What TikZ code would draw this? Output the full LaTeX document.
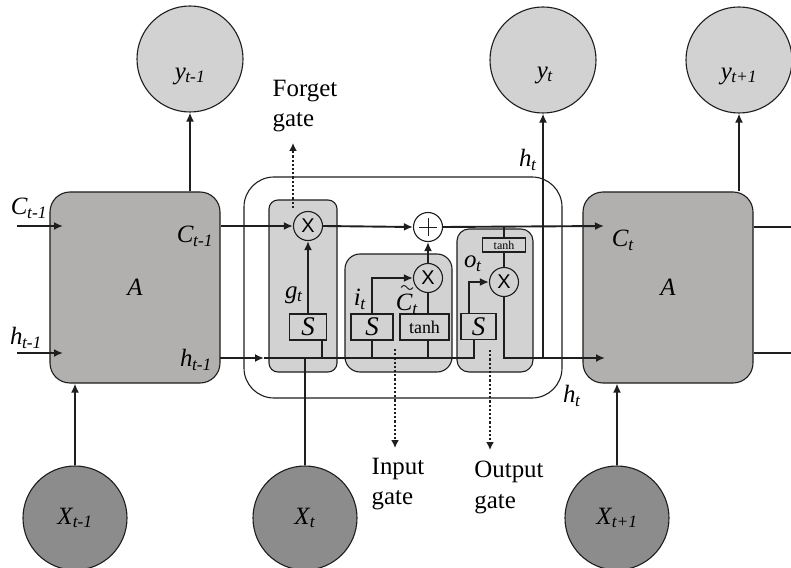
\documentclass[tikz,border=0pt]{standalone}
\usepackage{fontspec}
\setmainfont{Liberation Serif}
\newfontfamily\xfont{Liberation Sans}
\usetikzlibrary{arrows.meta,calc}
\newcommand{\vsub}[2]{\textit{#1}\textsubscript{\kern-0.5pt\textit{#2}}}
\definecolor{boxdark}{RGB}{178,175,175}
\definecolor{boxlight}{RGB}{210,210,210}
\definecolor{circdark}{RGB}{140,140,140}
\definecolor{linecol}{RGB}{30,30,30}
\begin{document}
\begin{tikzpicture}[x=1bp,y=-1bp,
  outl/.style={draw=linecol, line width=1.1bp},
  abox/.style={outl, fill=boxdark, rounded corners=20bp, minimum width=170bp, minimum height=191bp, inner sep=0pt, font=\fontsize{25}{30}\selectfont\itshape},
  gatebox/.style={outl, fill=boxlight, inner sep=0pt},
  sbox/.style={outl, fill=boxlight, inner sep=0pt, minimum height=26bp, font=\fontsize{27}{30}\selectfont\itshape},
  tbox/.style={outl, fill=boxlight, inner sep=0pt, minimum height=26bp, minimum width=49bp, font=\fontsize{18}{20}\selectfont},
  ycirc/.style={circle, outl, fill=boxlight, minimum size=106bp, inner sep=0pt},
  xcirc/.style={circle, outl, fill=circdark, minimum size=104bp, inner sep=0pt, font=\fontsize{25}{30}\selectfont},
  opc/.style={circle, outl, fill=boxlight, minimum size=29bp, inner sep=0pt, font=\xfont\fontsize{20}{20}\selectfont},
  lab/.style={inner sep=0pt, font=\fontsize{25}{30}\selectfont},
  glab/.style={inner sep=0pt, align=left, font=\fontsize{25}{31}\selectfont},
  conn/.style={line width=1.9bp, draw=linecol},
  arr/.style={conn, -{Latex[length=9bp,width=8bp]}},
  dots/.style={line width=2.6bp, draw=linecol, dash pattern=on 2.2bp off 2bp, -{Latex[length=8bp,width=8bp]}}
]
\fill[white] (0,0) rectangle (791,568);
\useasboundingbox (0,0) rectangle (791,568);

% big boxes
\node[abox] (AL) at (135,287.5) {A};
\node[abox] (AR) at (668,287.5) {A};
\node[outl, rounded corners=30bp, minimum width=318bp, minimum height=221bp, inner sep=0pt] (cell) at (403,287.5) {};
\node[gatebox, rounded corners=9bp, minimum width=68bp, minimum height=172bp] (fg) at (303,286) {};
\node[gatebox, rounded corners=15bp, minimum width=107bp, minimum height=118bp] (ig) at (398.5,313) {};
\node[gatebox, rounded corners=12bp, minimum width=76bp, minimum height=143bp] (og) at (495,300.5) {};

% circles outside
\node[ycirc] (yL) at (190,59) {};
\node[ycirc] (yt) at (543,60) {};
\node[ycirc] (yR) at (739,60) {};
\node[lab] (lyL) at (190,76) {\vsub{y}{t-1}};
\node[lab] (lyt) at (545,75) {\vsub{y}{t}};
\node[lab] (lyR) at (739,76) {\vsub{y}{t+1}};
\node[xcirc] (XL) at (75,518) {\vsub{X}{t-1}};
\node[xcirc] (Xt) at (305,518) {\vsub{X}{t}};
\node[xcirc] (XR) at (617,518) {\vsub{X}{t+1}};

% free ends
\coordinate (cL0) at (17,226);
\coordinate (cL1) at (63,226);
\coordinate (hL0) at (17,353);
\coordinate (hL1) at (63,353);
\coordinate (hA) at (220,358);
\coordinate (hIn) at (264,358);
\coordinate (cOut) at (604,226);
\coordinate (hOut) at (605,358);
\coordinate (rC) at (791,227);
\coordinate (rH) at (791,353);

% inner operators
\node[opc] (fX) at (308,226) {X};
\node[opc, fill=white] (pl) at (428,227) {};
\node[opc] (iX) at (428,278) {X};
\node[opc] (oX) at (504,282) {X};
\draw[line width=0.9bp, draw=linecol] ($(pl)+(-9,0)$) -- ($(pl)+(9,0)$) ($(pl)+(0,-9)$) -- ($(pl)+(0,9)$);

% activation boxes
\node[sbox, minimum width=37bp] (fS) at (308,327) {S};
\node[sbox, minimum width=42bp] (iS) at (372,327) {S};
\node[tbox] (th) at (424.5,327) {tanh};
\node[sbox, minimum width=35bp] (oS) at (478.5,326.5) {S};
\node[outl, fill=boxlight, inner sep=0pt, minimum width=43bp, minimum height=14bp, font=\fontsize{12}{12}\selectfont] (ot) at (504,245) {tanh};

% outer connectors
\draw[arr] (cL0) -- (cL1);
\draw[arr] (hL0) -- (hL1);
\draw[arr] (yL.south |- AL.north) -- (yL.south);
\draw[arr] (yR.south |- AR.north) -- (yR.south);
\draw[arr] (XL.north) -- (XL.north |- AL.south);
\draw[arr] (XR.north) -- (XR.north |- AR.south);
\draw[conn] (AR.east |- rC) -- (rC);
\draw[conn] (AR.east |- rH) -- (rH);

% cell state line
\draw[arr] (AL.east |- fX) -- (fX.west);
\draw[arr] (fX.east) -- (pl.west);
\draw[arr] (pl.east) -- (cOut);

% hidden line
\draw[arr] (hA) -- (hIn);
\draw[conn] (hIn) -| ([xshift=-4.5bp]oS.south);
\draw[conn] (Xt.north) -- (Xt.north |- hIn);
\draw[conn] ([xshift=14bp]fS.south) -- ([xshift=14bp]fS.south |- hIn);
\draw[conn] (iS.south) -- (iS.south |- hIn);
\draw[conn] (th.south -| iX) -- (iX |- hIn);

% gates
\draw[arr] (fS.north) -- (fX.south);
\draw[arr] (iS.north) |- (iX.west);
\draw[conn] (th.north -| iX) -- (iX.south);
\draw[arr] (iX.north) -- (pl.south);
\draw[arr] ([xshift=-9.5bp]oS.north) |- (oX.west);
\draw[conn] (oX |- pl) -- (ot.north);
\draw[conn] (ot.south) -- (oX.north);
\draw[arr] (oX.south) |- (hOut);
\draw[arr] (yt.south |- hOut) -- (yt.south);

% dotted gate arrows
\coordinate (fd0) at (293,208);
\coordinate (fd1) at (293,143);
\coordinate (id0) at (395,349);
\coordinate (id1) at (395,448);
\coordinate (od0) at (490,350);
\coordinate (od1) at (490,450);
\draw[dots] (fd0) -- (fd1);
\draw[dots] (id0) -- (id1);
\draw[dots] (od0) -- (od1);
\node[glab] (tf) at (305,106) {Forget\\gate};
\node[glab] (ti) at (398,484) {Input\\gate};
\node[glab] (to) at (509,487) {Output\\gate};

% labels
\node[lab] (lCL) at (29,208) {\vsub{C}{t-1}};
\node[lab] (lhL) at (26,338) {\vsub{h}{t-1}};
\node[lab] (lCi) at (195,236) {\vsub{C}{t-1}};
\node[lab] (lhi) at (196,360) {\vsub{h}{t-1}};
\node[lab] (lCt) at (623,240) {\vsub{C}{t}};
\node[lab] (lht1) at (528,160) {\vsub{h}{t}};
\node[lab] (lht2) at (572,396) {\vsub{h}{t}};
\node[lab] (lg) at (294,295) {\vsub{g}{t}};
\node[lab] (li) at (360,299) {\vsub{i}{t}};
\node[lab] (lCtil) at (407,304) {\vsub{C}{t}};
\draw[line width=1bp, draw=linecol] (401,287.5) sin (404,285.5) cos (407,287.5) sin (410,289.5) cos (413,287.5);
\node[lab] (lo) at (473,264) {\vsub{o}{t}};
\end{tikzpicture}
\end{document}
